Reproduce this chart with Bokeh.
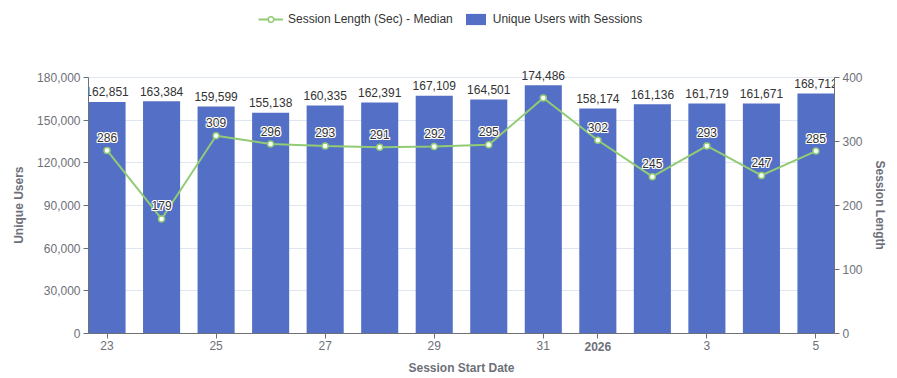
from bokeh.plotting import figure
from bokeh.models import (ColumnDataSource, Range1d, LinearAxis, FixedTicker,
                          NumeralTickFormatter, Legend, LegendItem, Title)
from bokeh.embed import file_html
from bokeh.resources import INLINE
from bokeh.core.properties import value

# ---------------- data ----------------
dates = ["2025-12-23", "2025-12-24", "2025-12-25", "2025-12-26", "2025-12-27",
         "2025-12-28", "2025-12-29", "2025-12-30", "2025-12-31", "2026-01-01",
         "2026-01-02", "2026-01-03", "2026-01-04", "2026-01-05"]
day_labels = ["23", "24", "25", "26", "27", "28", "29", "30", "31", "2026",
              "2", "3", "4", "5"]
tick_positions = [0, 2, 4, 6, 8, 9, 11, 13]
year_index = 9
unique_users = [162851, 163384, 159599, 155138, 160335, 162391, 167109,
                164501, 174486, 158174, 161136, 161719, 161671, 168712]
session_length = [286, 179, 309, 296, 293, 291, 292, 295, 368, 302, 245,
                  293, 247, 285]
hidden_length_labels = [8]
users_ticks = [0, 30000, 60000, 90000, 120000, 150000, 180000]
length_ticks = [0, 100, 200, 300, 400]
users_max = 180000
length_max = 400

# ---------------- styling ----------------
FONT = "Liberation Sans"
AXIS_COLOR = "#6E7079"
BAR_COLOR = "#5470C6"
LINE_COLOR = "#91CC75"
TEXT_COLOR = "#333333"

W, H = 897, 378
# frame geometry (pixels): the value axes end AXIS_TOP px below the figure top
FRAME_TOP, FRAME_BOTTOM, AXIS_TOP = 0, 333, 77
FRAME_LEFT, FRAME_RIGHT = 87, 834
headroom = (FRAME_BOTTOM - FRAME_TOP) / (FRAME_BOTTOM - AXIS_TOP)

x = list(range(len(dates)))
src = ColumnDataSource(dict(
    x=x,
    users=unique_users,
    length=session_length,
    users_txt=[f"{v:,}" for v in unique_users],
    length_txt=["" if i in hidden_length_labels else str(v)
                for i, v in enumerate(session_length)],
))

p = figure(width=W, height=H, output_backend="svg", toolbar_location=None,
           x_range=Range1d(-0.34, 13.34), y_range=Range1d(0, users_max * headroom),
           min_border_left=FRAME_LEFT, min_border_right=W - FRAME_RIGHT,
           min_border_top=FRAME_TOP, min_border_bottom=H - FRAME_BOTTOM, tools="")
p.extra_y_ranges = {"len": Range1d(0, length_max * headroom)}
p.outline_line_color = None
p.background_fill_color = "white"
p.border_fill_color = "white"

# bars
bar_r = p.vbar(x="x", top="users", width=0.68, source=src,
               fill_color=BAR_COLOR, line_color=None)

# line + points
line_r = p.line(x="x", y="length", source=src, y_range_name="len",
                line_color=LINE_COLOR, line_width=2)
pts_r = p.scatter(x="x", y="length", source=src, y_range_name="len",
                  size=6, fill_color="white", line_color=LINE_COLOR,
                  line_width=1.5)

# bar labels
p.text(x="x", y="users", text="users_txt", source=src,
       text_font=value(FONT), text_font_size="12px", text_color=TEXT_COLOR,
       text_align="center", text_baseline="middle", y_offset=-10)

# line labels with white halo
for dx, dy in [(-1, 0), (1, 0), (0, -1), (0, 1), (-1, -1), (1, 1), (-1, 1), (1, -1)]:
    p.text(x="x", y="length", text="length_txt", source=src, y_range_name="len",
           text_font=value(FONT), text_font_size="12px", text_color="white",
           text_align="center", text_baseline="middle",
           x_offset=dx, y_offset=-13 + dy)
p.text(x="x", y="length", text="length_txt", source=src, y_range_name="len",
       text_font=value(FONT), text_font_size="12px", text_color=TEXT_COLOR,
       text_align="center", text_baseline="middle", y_offset=-13)

# axes
right = LinearAxis(y_range_name="len",
                   ticker=FixedTicker(ticks=length_ticks), bounds=(0, length_max))
p.add_layout(right, "right")

p.yaxis[0].ticker = FixedTicker(ticks=users_ticks)
p.yaxis[0].formatter = NumeralTickFormatter(format="0,0")
p.yaxis[0].bounds = (0, users_max)

xa = p.xaxis[0]
xa.ticker = FixedTicker(ticks=tick_positions)
xa.major_label_overrides = {
    i: ("" if i == year_index else day_labels[i]) for i in tick_positions}

for ax in [xa, p.yaxis[0], right]:
    ax.axis_line_color = AXIS_COLOR
    ax.major_tick_line_color = AXIS_COLOR
    ax.major_tick_out = 5
    ax.major_tick_in = 0
    ax.minor_tick_line_color = None
    ax.major_label_text_color = AXIS_COLOR
    ax.major_label_text_font = FONT
    ax.major_label_text_font_size = "12px"
    ax.major_label_standoff = 3
xa.major_label_standoff = 2

# second, line-less x axis: carries the bold year label and the axis title
year_axis = LinearAxis(ticker=FixedTicker(ticks=[year_index]),
                       major_label_overrides={year_index: day_labels[year_index]},
                       axis_label="Session Start Date",
                       axis_line_color=None, major_tick_line_color=None,
                       minor_tick_line_color=None,
                       major_tick_out=0, major_tick_in=0,
                       major_label_standoff=-11,
                       major_label_text_color=AXIS_COLOR,
                       major_label_text_font=FONT,
                       major_label_text_font_size="12px",
                       major_label_text_font_style="bold",
                       axis_label_text_color=AXIS_COLOR,
                       axis_label_text_font=FONT,
                       axis_label_text_font_size="12px",
                       axis_label_text_font_style="bold",
                       axis_label_standoff=7)
p.add_layout(year_axis, "below")

# value-axis titles, centred on the value axes (not on the taller frame)
p.add_layout(Title(text="Unique Users", align="right", offset=166,
                   text_font=FONT, text_font_size="12px", text_font_style="bold",
                   text_color=AXIS_COLOR, standoff=18), "left")
p.add_layout(Title(text="Session Length", align="left", offset=160,
                   text_font=FONT, text_font_size="12px", text_font_style="bold",
                   text_color=AXIS_COLOR, standoff=14), "right")

# grid
p.xgrid.grid_line_color = None
p.ygrid.grid_line_color = "#E0E6F1"
p.ygrid.ticker = FixedTicker(ticks=users_ticks)

# legend
legend = Legend(items=[
    LegendItem(label="Session Length (Sec) - Median", renderers=[line_r, pts_r]),
    LegendItem(label="Unique Users with Sessions", renderers=[bar_r]),
], orientation="horizontal", location=(170, 307),
    border_line_color=None, background_fill_alpha=0,
    label_text_font=FONT, label_text_font_size="12px", label_text_color=TEXT_COLOR,
    glyph_width=25, glyph_height=14, label_standoff=5, spacing=10,
    padding=2, margin=0)
p.add_layout(legend)

open("out.html", "w").write(file_html(p, INLINE))
